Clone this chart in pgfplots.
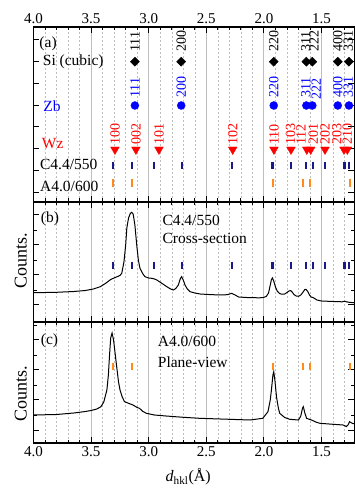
\documentclass[border=0pt]{standalone}
\usepackage{fontspec}
\setmainfont{Liberation Serif}
\usepackage{pgfplots}
\pgfplotsset{compat=1.18}
\definecolor{navyb}{RGB}{25,25,140}
\definecolor{orng}{RGB}{255,140,25}
\definecolor{gridg}{RGB}{190,190,190}
\definecolor{zbblue}{RGB}{0,0,255}
\definecolor{wzred}{RGB}{255,0,0}
\pgfplotsset{
 panel/.style={
  scale only axis, width=321pt,
  x dir=reverse, xmin=1.214, xmax=4.0,
  xtick={1.5,2.0,2.5,3.0,3.5,4.0},
  minor xtick={1.3,1.4,1.6,1.7,1.8,1.9,2.1,2.2,2.3,2.4,2.6,2.7,2.8,2.9,3.1,3.2,3.3,3.4,3.6,3.7,3.8,3.9},
  xtick pos=both, ytick pos=both, tick align=inside,
  major tick length=6pt, minor tick length=3.5pt,
  every major tick/.append style={black, line width=1pt},
  every minor tick/.append style={black, line width=0.8pt},
  axis line style={line width=1.2pt},
  xmajorgrids, xminorgrids,
  major grid style={gridg, line width=0.9pt},
  minor grid style={gridg, dash pattern=on 2pt off 2pt, line width=0.5pt},
  yticklabels={},
  tick label style={font=\fontsize{15}{18}\selectfont},
  /pgf/number format/assume math mode=true,
  xticklabel style={/pgf/number format/fixed, /pgf/number format/fixed zerofill, /pgf/number format/precision=1},
  ylabel style={font=\fontsize{18}{21}\selectfont, anchor=center},
 },
}
\tikzset{
 txt/.style={anchor=west, inner sep=0pt, font=\fontsize{15.5}{18}\selectfont},
 hkl/.style={rotate=90, anchor=west, inner sep=0pt, font=\fontsize{14}{16}\selectfont},
}
\begin{document}
\begin{tikzpicture}[x=1pt,y=1pt]
\useasboundingbox (0,0) rectangle (354,490);

% ---------------- panel (a)
\begin{axis}[panel, at={(33.5pt,288pt)}, anchor=south west, height=175pt,
  ymin=0, ymax=175, ytick={9,31,53,75,96,118,140,162},
  xticklabel pos=top]
\addplot[only marks, mark=square*, mark size=3.2pt, mark options={rotate=45, fill=black, draw=black}]
 coordinates {(3.12,140.3) (2.718,140.3) (1.915,140.3) (1.632,140.3) (1.580,140.3) (1.359,140.3) (1.262,140.3)};
\addplot[only marks, mark=*, mark size=4pt, color=zbblue]
 coordinates {(3.12,96.5) (2.718,96.5) (1.915,96.5) (1.632,96.5) (1.580,96.5) (1.359,96.5) (1.262,96.5)};
\addplot[only marks, mark=triangle*, mark size=5pt, color=wzred, mark options={rotate=180}]
 coordinates {(3.293,52.5) (3.111,52.5) (2.911,52.5) (2.271,52.5) (1.913,52.5) (1.765,52.5) (1.628,52.5) (1.594,52.5) (1.470,52.5) (1.305,52.5) (1.276,52.5)};
\addplot[only marks, mark=|, mark size=3.8pt, color=navyb, mark options={line width=2.2pt}]
 coordinates {(3.308,36.3) (3.147,36.3) (2.957,36.3) (2.708,36.3) (2.278,36.3) (1.926,36.3) (1.767,36.3) (1.635,36.3) (1.571,36.3) (1.470,36.3) (1.301,36.3) (1.262,36.3)};
\addplot[only marks, mark=|, mark size=3.8pt, color=orng, mark options={line width=2.2pt}]
 coordinates {(3.308,18.7) (3.147,18.7) (1.918,18.7) (1.658,18.7) (1.600,18.7) (1.253,18.7)};
\node[txt] at (axis cs:3.95,158.7) {(a)};
\node[txt] at (axis cs:3.92,140.3) {Si (cubic)};
\node[txt, text=zbblue] at (axis cs:3.915,95.5) {Zb};
\node[txt, text=wzred] at (axis cs:3.929,58.7) {Wz};
\node[txt] at (axis cs:3.944,38) {C4.4/550};
\node[txt] at (axis cs:3.944,16) {A4.0/600};
% Si labels
\node[hkl] at (axis cs:3.12,150.3) {111};
\node[hkl] at (axis cs:2.718,150.3) {200};
\node[hkl] at (axis cs:1.915,150.3) {220};
\node[hkl] at (axis cs:1.637,150.3) {311};
\node[hkl] at (axis cs:1.566,150.3) {222};
\node[hkl] at (axis cs:1.359,150.3) {400};
\node[hkl] at (axis cs:1.268,150.3) {331};
% Zb labels
\node[hkl, text=zbblue] at (axis cs:3.12,104) {111};
\node[hkl, text=zbblue] at (axis cs:2.718,104) {200};
\node[hkl, text=zbblue] at (axis cs:1.915,104) {220};
\node[hkl, text=zbblue] at (axis cs:1.637,104) {311};
\node[hkl, text=zbblue] at (axis cs:1.545,102) {222};
\node[hkl, text=zbblue] at (axis cs:1.359,104) {400};
\node[hkl, text=zbblue] at (axis cs:1.268,104) {331};
% Wz labels
\node[hkl, text=wzred] at (axis cs:3.293,57) {100};
\node[hkl, text=wzred] at (axis cs:3.111,57) {002};
\node[hkl, text=wzred] at (axis cs:2.911,57) {101};
\node[hkl, text=wzred] at (axis cs:2.271,57) {102};
\node[hkl, text=wzred] at (axis cs:1.913,57) {110};
\node[hkl, text=wzred] at (axis cs:1.770,57) {103};
\node[hkl, text=wzred] at (axis cs:1.678,57) {112};
\node[hkl, text=wzred] at (axis cs:1.571,57) {201};
\node[hkl, text=wzred] at (axis cs:1.470,57) {202};
\node[hkl, text=wzred] at (axis cs:1.368,57) {203};
\node[hkl, text=wzred] at (axis cs:1.276,57) {210};
\end{axis}

% ---------------- panel (b)
\begin{axis}[panel, at={(33.5pt,168pt)}, anchor=south west, height=120pt,
  ymin=0, ymax=120, ytick={17,47,77,107}, minor ytick={32,62,92},
  xticklabels={},
  ylabel={Counts.}, ylabel style={at={(axis description cs:-0.0396,0.51)}}]
\addplot[black, line width=1pt] coordinates {
(4.00,29.3) (3.80,29.7) (3.65,30.5) (3.55,31.5) (3.48,33) (3.42,35.3) (3.37,39) (3.33,42.5)
(3.307,43.7) (3.28,45) (3.25,46.5) (3.234,48.7) (3.215,60) (3.20,77) (3.19,94) (3.175,104)
(3.16,108.5) (3.148,109.7) (3.135,108) (3.12,97) (3.104,77) (3.09,62) (3.076,53.7) (3.05,48)
(3.032,45.3) (3.00,44) (2.974,43.7) (2.95,43) (2.93,42) (2.89,39) (2.843,35.3) (2.81,33)
(2.786,32) (2.765,33.5) (2.743,37) (2.725,43.5) (2.714,45.3) (2.70,42) (2.685,37) (2.665,33)
(2.641,30.3) (2.60,29) (2.555,28) (2.45,27.3) (2.35,27) (2.31,27.5) (2.28,28.7) (2.25,27)
(2.22,25) (2.15,24.5) (2.05,24.2) (2.01,24.3) (1.98,25.5) (1.96,29) (1.945,37) (1.935,42.5)
(1.926,44) (1.915,41) (1.90,35) (1.885,31) (1.865,28.5) (1.845,27.8) (1.82,28) (1.80,29.5)
(1.78,31.2) (1.767,31.3) (1.755,30) (1.74,27.5) (1.72,26) (1.70,25.7) (1.68,27) (1.66,30)
(1.645,32.5) (1.635,32.7) (1.62,30.5) (1.605,27) (1.59,25) (1.575,24.5) (1.56,23.5) (1.54,22)
(1.50,21) (1.40,20.5) (1.32,20.2) (1.30,20.8) (1.285,20.2) (1.26,19.7) (1.24,19.5) (1.214,19.2)};
\addplot[only marks, mark=|, mark size=3.8pt, color=navyb, mark options={line width=2.2pt}]
 coordinates {(3.308,56.5) (3.147,56.5) (2.957,56.5) (2.708,56.5) (2.278,56.5) (1.926,56.5) (1.767,56.5) (1.635,56.5) (1.571,56.5) (1.470,56.5) (1.301,56.5) (1.262,56.5)};
\node[txt] at (axis cs:3.9375,103) {(b)};
\node[txt] at (axis cs:2.882,102) {C4.4/550};
\node[txt] at (axis cs:2.882,84) {Cross-section};
\end{axis}

% ---------------- panel (c)
\begin{axis}[panel, at={(33.5pt,47pt)}, anchor=south west, height=121pt,
  ymin=0, ymax=121, ytick={13,43,73,103}, minor ytick={28,58,88,118},
  ylabel={Counts.}, ylabel style={at={(axis description cs:-0.0396,0.41)}},
  xlabel={\textit{d}\textsubscript{hkl}(Å)},
  xlabel style={font=\fontsize{16}{19}\selectfont, at={(axis description cs:0.482,-0.2785)}, anchor=center}]
\addplot[black, line width=1pt] coordinates {
(4.00,28) (3.80,28.5) (3.65,30) (3.55,31.5) (3.50,32.5) (3.45,34) (3.415,36.3) (3.39,41)
(3.363,53) (3.35,68) (3.34,88) (3.33,105) (3.318,110) (3.305,103) (3.293,91) (3.278,76.3)
(3.262,61) (3.249,53) (3.23,46) (3.21,41.3) (3.17,39.5) (3.137,38) (3.10,35.5) (3.08,34.7)
(3.05,31.5) (3.02,29.7) (2.95,28) (2.85,27) (2.70,25.7) (2.56,24.7) (2.30,23.7) (2.12,23)
(2.01,24.7) (1.965,31.3) (1.945,43) (1.935,53) (1.922,68) (1.915,71.3) (1.905,63) (1.891,46.3)
(1.875,35) (1.863,29.7) (1.82,25.5) (1.776,23.7) (1.70,23) (1.68,27) (1.665,35) (1.658,36.3)
(1.645,30) (1.63,24.7) (1.60,23.5) (1.587,23) (1.55,21) (1.515,19.7) (1.40,18.7) (1.313,18)
(1.285,16.5) (1.27,18) (1.257,21.3) (1.245,20.5) (1.23,19.5) (1.214,19.5)};
\addplot[only marks, mark=|, mark size=3.8pt, color=orng, mark options={line width=2.2pt}]
 coordinates {(3.308,76.3) (3.147,76.3) (1.918,76.3) (1.658,76.3) (1.600,76.3) (1.253,76.3)};
\node[txt] at (axis cs:3.9375,102) {(c)};
\node[txt] at (axis cs:2.922,101.3) {A4.0/600};
\node[txt] at (axis cs:2.922,81.3) {Plane-view};
\end{axis}
\end{tikzpicture}
\end{document}
